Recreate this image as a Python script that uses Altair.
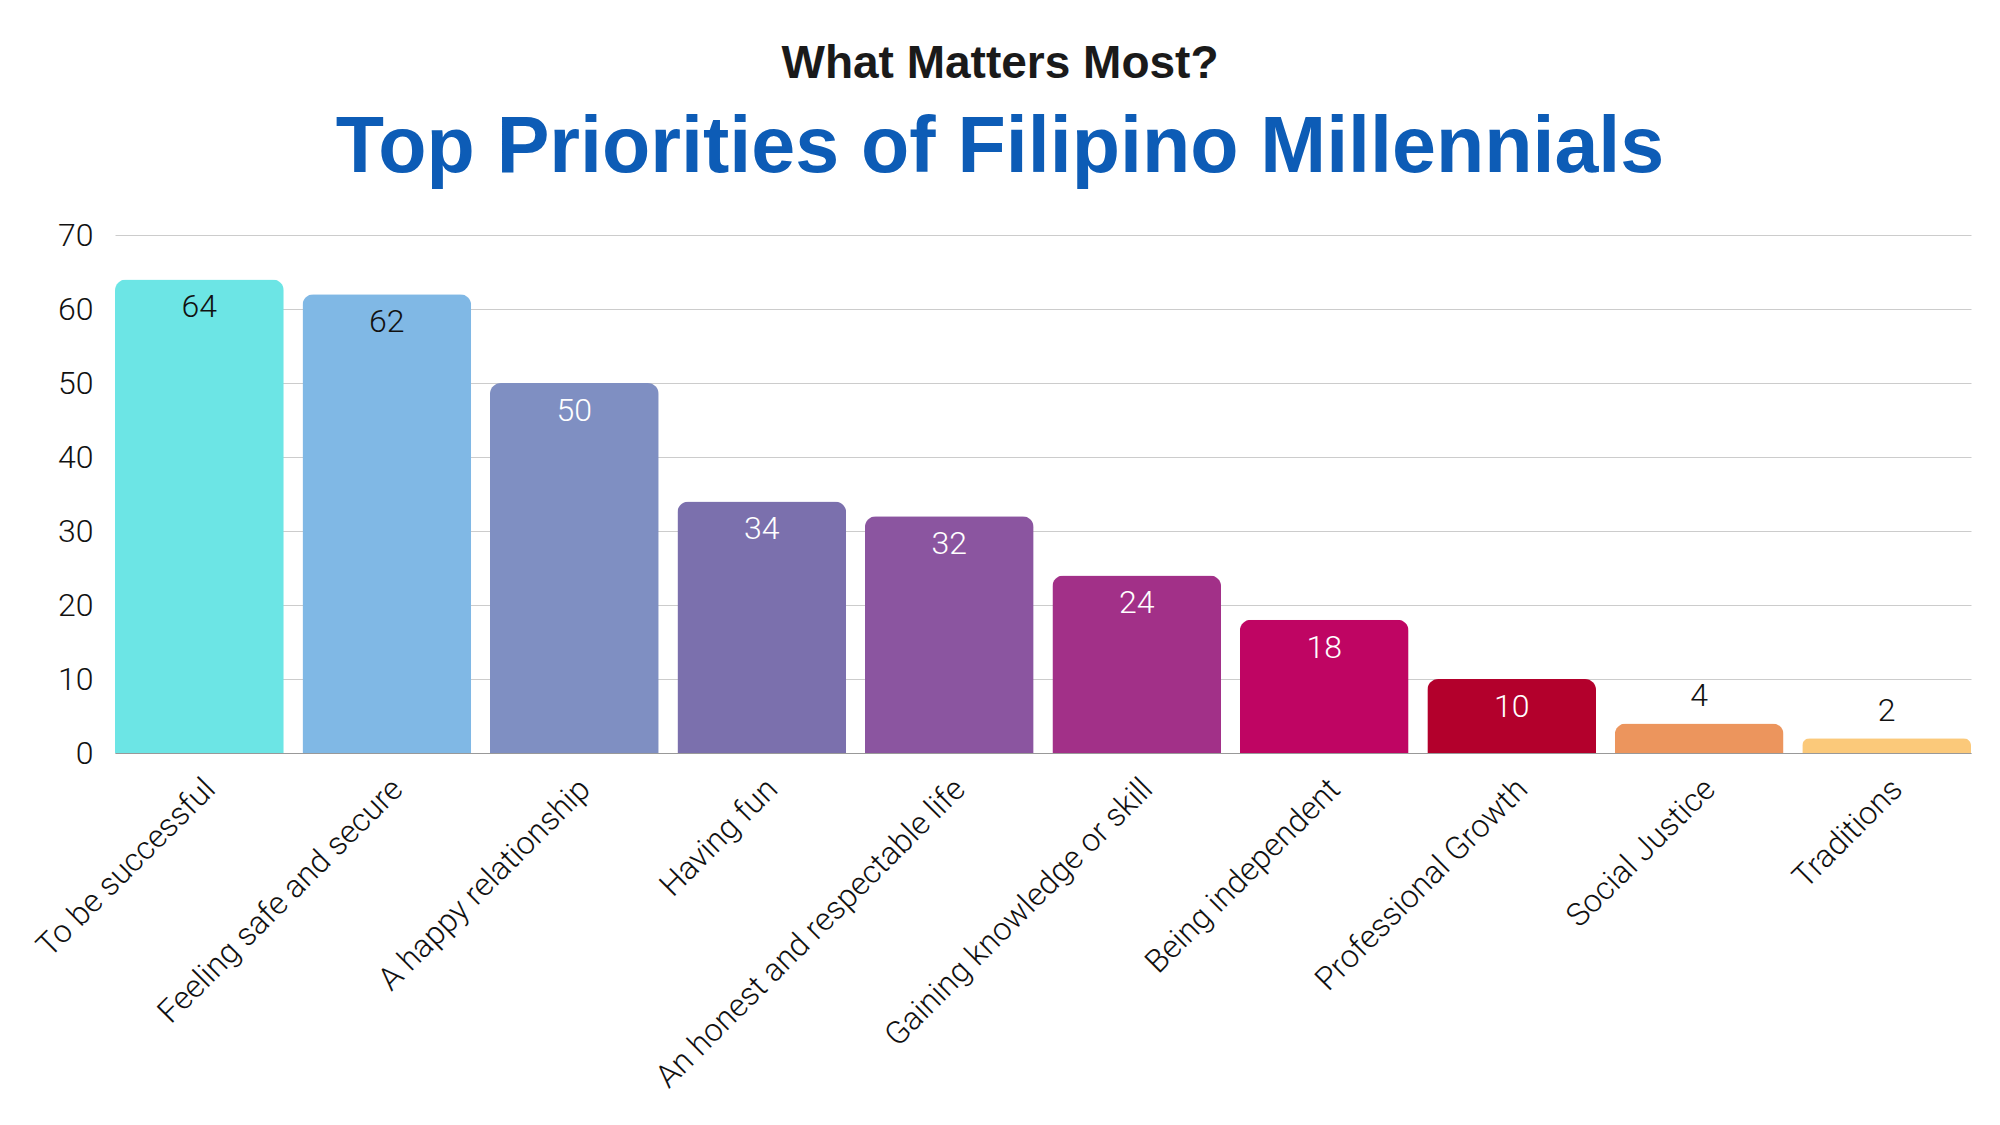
import altair as alt
import pandas as pd

categories = [
    "To be successful",
    "Feeling safe and secure",
    "A happy relationship",
    "Having fun",
    "An honest and respectable life",
    "Gaining knowledge or skill",
    "Being independent",
    "Professional Growth",
    "Social Justice",
    "Traditions",
]
values = [64, 62, 50, 34, 32, 24, 18, 10, 4, 2]
colors = ["#6ce5e5", "#80b8e5", "#7f8fc2", "#7b70ad", "#8b55a0",
          "#a23088", "#bf0563", "#b3002c", "#ec955d", "#fbc97a"]
y_ticks = [0, 10, 20, 30, 40, 50, 60, 70]

df = pd.DataFrame({"category": categories, "value": values})

FONT = "Roboto"

x = alt.X("category:N", sort=categories, title=None,
          scale=alt.Scale(paddingInner=0.1, paddingOuter=0),
          axis=alt.Axis(labelAngle=-45, labelAlign="right", labelBaseline="top",
                        labelPadding=20, ticks=False, domain=True, domainColor="#999999",
                        labelFont=FONT, labelFontWeight=300, labelFontSize=32,
                        labelColor="#111111", labelLimit=600))
y = alt.Y("value:Q", title=None,
          scale=alt.Scale(domain=[0, 70]),
          axis=alt.Axis(values=y_ticks, ticks=False, domain=False, grid=True,
                        gridColor="#cccccc", gridWidth=1, labelPadding=22,
                        labelFont=FONT, labelFontWeight=300, labelFontSize=32,
                        labelColor="#111111"))

bars = alt.Chart(df).mark_bar(cornerRadiusTopLeft=11, cornerRadiusTopRight=11).encode(
    x=x, y=y,
    color=alt.Color("category:N", sort=categories,
                    scale=alt.Scale(domain=categories, range=colors), legend=None),
)

inside = alt.Chart(df).transform_filter("datum.value >= 10").mark_text(
    baseline="top", dy=13, font=FONT, fontWeight=300, fontSize=32
).encode(
    x=alt.X("category:N", sort=categories),
    y=alt.Y("value:Q"),
    text="value:Q",
    color=alt.condition("datum.value > 60", alt.value("#111111"), alt.value("#ffffff")),
)

outside = alt.Chart(df).transform_filter("datum.value < 10").mark_text(
    baseline="bottom", dy=-10, font=FONT, fontWeight=300, fontSize=32, color="#111111"
).encode(
    x=alt.X("category:N", sort=categories),
    y=alt.Y("value:Q"),
    text="value:Q",
)

chart = alt.layer(bars, inside, outside).properties(
    width=1856, height=518,
    background="white",
    autosize=alt.AutoSizeParams(type="none"),
    padding={"left": 107, "top": 227, "right": 15, "bottom": 350},
    title=alt.TitleParams(
        text="What Matters Most?",
        subtitle="Top Priorities of Filipino Millennials",
        anchor="middle", frame="group", dx=-43, offset=30,
        font="Liberation Sans", fontSize=46, fontWeight="bold", color="#1a1a1a",
        subtitleFont="Liberation Sans", subtitleFontSize=79, subtitleFontWeight="bold",
        subtitleColor="#0d5cb6", subtitlePadding=22,
    ),
).configure_view(stroke=None)

chart.save("out.html", embed_options={"renderer": "svg", "actions": False})
